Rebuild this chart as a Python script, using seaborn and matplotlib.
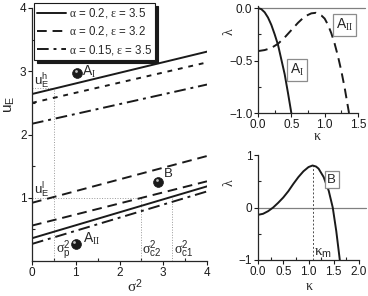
import numpy as np
import pandas as pd
import matplotlib
matplotlib.use('Agg')
import matplotlib.pyplot as plt
from matplotlib.ticker import MultipleLocator
import seaborn as sns

# left panel: u_E vs sigma^2 (straight lines, end points)
sigma2 = [0.0, 4.0]
up_solid = [2.64, 3.31]
up_short = [2.50, 3.14]
up_dashdot = [2.17, 2.79]
lo_dash_hi = [0.92, 1.66]
lo_dash_lo = [0.56, 1.26]
lo_solid = [0.36, 1.18]
lo_dashdot = [0.27, 1.10]

legend_labels = [r'$\mathrm{\alpha}$ = 0.2, $\mathrm{\varepsilon}$ = 3.5',
                 r'$\mathrm{\alpha}$ = 0.2, $\mathrm{\varepsilon}$ = 3.2',
                 r'$\mathrm{\alpha}$ = 0.15, $\mathrm{\varepsilon}$ = 3.5']

# fixed points
pt_names = ['A_I', 'B', 'A_II']
pt_sigma2 = [1.03, 2.88, 1.0]
pt_u = [2.98, 1.25, 0.27]

# reference values
sigma_p = 0.5
sigma_c2 = 2.49
sigma_c1 = 3.21
u_h = 2.73
u_l = 1.0

# top right: lambda(kappa) for A_I and A_II
kap_AI = [0.0, 0.05, 0.1, 0.15, 0.2, 0.25, 0.3, 0.35, 0.4, 0.45, 0.5]
lam_AI = [0.0, -0.01, -0.04, -0.09, -0.16, -0.25, -0.35, -0.49, -0.63, -0.81, -1.0]
kap_AII = [0.0, 0.1, 0.2, 0.3, 0.4, 0.5, 0.6, 0.7, 0.8, 0.87, 0.95, 1.0, 1.05,
           1.1, 1.15, 1.2, 1.25, 1.3, 1.365]
lam_AII = [-0.41, -0.40, -0.38, -0.34, -0.28, -0.21, -0.14, -0.08, -0.05, -0.045,
           -0.07, -0.10, -0.16, -0.24, -0.34, -0.46, -0.60, -0.76, -1.0]

# bottom right: lambda(kappa) for B
kap_B = [0.0, 0.1, 0.2, 0.3, 0.4, 0.5, 0.6, 0.7, 0.8, 0.9, 1.0, 1.08, 1.15,
         1.2, 1.3, 1.4, 1.48, 1.55, 1.62]
lam_B = [-0.14, -0.12, -0.07, 0.0, 0.09, 0.19, 0.31, 0.45, 0.58, 0.69, 0.77, 0.80,
         0.78, 0.74, 0.58, 0.32, 0.0, -0.45, -1.0]
kappa_m = 1.08

sns.set_theme(style='ticks')
plt.rcParams['font.family'] = ['Liberation Sans', 'DejaVu Sans']
plt.rcParams['mathtext.fontset'] = 'custom'
plt.rcParams['mathtext.rm'] = 'Liberation Serif'
plt.rcParams['mathtext.it'] = 'Liberation Serif:italic'
plt.rcParams['mathtext.sf'] = 'Liberation Sans'
plt.rcParams['font.size'] = 8.5
plt.rcParams['axes.linewidth'] = 0.9

fig = plt.figure(figsize=(3.68, 2.96), dpi=100)
ax = fig.add_axes([32 / 368, 1 - 261 / 296, 175 / 368, 253 / 296])
ax_t = fig.add_axes([258 / 368, 1 - 113 / 296, 100 / 368, 107 / 296])
ax_b = fig.add_axes([258 / 368, 1 - 260 / 296, 101 / 368, 105 / 296])

lw = 1.4
dash = (0, (5, 3))
short = (0, (2.5, 3))
dashdot = (0, (6, 2.5, 1.5, 2.5))

# ---- left panel
ref = dict(color='0.6', lw=0.7, ls=':')
ax.plot([sigma_p, sigma_p], [0, u_h], **ref)
ax.plot([0, sigma_p], [u_h, u_h], **ref)
ax.plot([0, sigma_c2], [u_l, u_l], **ref)
ax.plot([sigma_c2, sigma_c2], [0, u_l], **ref)
ax.plot([sigma_c1, sigma_c1], [0, u_l], **ref)

sns.lineplot(x=sigma2, y=up_solid, ax=ax, color='k', lw=lw, label=legend_labels[0])
sns.lineplot(x=sigma2, y=lo_dash_hi, ax=ax, color='k', lw=lw, linestyle=dash,
             label=legend_labels[1])
sns.lineplot(x=sigma2, y=up_dashdot, ax=ax, color='k', lw=lw, linestyle=dashdot,
             label=legend_labels[2])
sns.lineplot(x=sigma2, y=up_short, ax=ax, color='k', lw=lw, linestyle=short)
sns.lineplot(x=sigma2, y=lo_dash_lo, ax=ax, color='k', lw=lw, linestyle=dash)
sns.lineplot(x=sigma2, y=lo_solid, ax=ax, color='k', lw=lw)
sns.lineplot(x=sigma2, y=lo_dashdot, ax=ax, color='k', lw=lw, linestyle=dashdot)

pts = pd.DataFrame({'s': pt_sigma2, 'u': pt_u, 'name': pt_names})
sns.scatterplot(data=pts, x='s', y='u', ax=ax, color='k', s=50, edgecolor='k',
                linewidth=0.5, zorder=5, legend=False)
ax.scatter(np.array(pt_sigma2) - 0.03, np.array(pt_u) + 0.03, s=4, color='0.75',
           zorder=6, linewidths=0)

ax.text(1.14, 2.93, r'$\mathsf{A}_{\mathrm{I}}$', fontsize=10)
ax.text(3.02, 1.33, 'B', fontsize=9.5)
ax.text(1.16, 0.28, r'$\mathsf{A}_{\mathrm{II}}$', fontsize=10)
ax.text(0.04, 2.78, r'$\mathsf{u}_{\mathsf{E}}^{\mathsf{h}}$', fontsize=9.5)
ax.text(0.04, 1.05, r'$\mathsf{u}_{\mathsf{E}}^{\mathsf{l}}$', fontsize=9.5)
ax.text(0.54, 0.12, r'$\mathrm{\sigma}_{\mathsf{p}}^{\mathsf{2}}$', fontsize=10)
ax.text(2.52, 0.12, r'$\mathrm{\sigma}_{\mathsf{c2}}^{\mathsf{2}}$', fontsize=10)
ax.text(3.24, 0.12, r'$\mathrm{\sigma}_{\mathsf{c1}}^{\mathsf{2}}$', fontsize=10)

ax.set_xlim(0, 4)
ax.set_ylim(0, 4)
ax.set_xticks([0, 1, 2, 3, 4])
ax.set_yticks([1, 2, 3, 4])
ax.xaxis.set_minor_locator(MultipleLocator(0.5))
ax.yaxis.set_minor_locator(MultipleLocator(0.5))
ax.set_xlabel(r'$\mathrm{\sigma}^{\mathsf{2}}$', fontsize=11)
ax.set_ylabel(r'$\mathsf{u}_{\mathsf{E}}$', fontsize=11)
ax.xaxis.set_label_coords(0.59, -0.065)
ax.yaxis.set_label_coords(-0.085, 0.62)

leg = ax.legend(loc='upper left', bbox_to_anchor=(34 / 368, 1 - 3 / 296),
                bbox_transform=fig.transFigure, borderaxespad=0, fancybox=False,
                framealpha=1, edgecolor='k', handlelength=2.5, handletextpad=0.2,
                labelspacing=0.35, borderpad=0.3, fontsize=8.3,
                shadow={'facecolor': 'k', 'edgecolor': 'k', 'alpha': 1})
leg.get_frame().set_linewidth(0.8)

# ---- top right panel
ax_t.axhline(0, xmax=1.07, color='0.5', lw=0.9, clip_on=False)
sns.lineplot(x=kap_AI, y=lam_AI, ax=ax_t, color='k', lw=lw)
sns.lineplot(x=kap_AII, y=lam_AII, ax=ax_t, color='k', lw=lw, linestyle=dash)
box = dict(boxstyle='square,pad=0.2', fc='white', ec='0.55', lw=0.9)
ax_t.text(0.48, -0.63, r'$\mathsf{A}_{\mathrm{I}}$', fontsize=10, bbox=box)
ax_t.text(1.17, -0.2, r'$\mathsf{A}_{\mathrm{II}}$', fontsize=10, bbox=box)
ax_t.set_xlim(0, 1.5)
ax_t.set_ylim(-1, 0.02)
ax_t.set_xticks([0, 0.5, 1.0, 1.5])
ax_t.set_yticks([-1.0, -0.5, 0.0])
ax_t.xaxis.set_major_formatter('{x:.1f}')
ax_t.yaxis.set_major_formatter('{x:.1f}')
ax_t.xaxis.set_minor_locator(MultipleLocator(0.25))
ax_t.yaxis.set_minor_locator(MultipleLocator(0.25))
ax_t.set_xlabel(r'$\mathrm{\kappa}$', fontsize=10)
ax_t.set_ylabel(r'$\mathrm{\lambda}$', fontsize=10)
ax_t.xaxis.set_label_coords(0.59, -0.15)
ax_t.yaxis.set_label_coords(-0.22, 0.76)

# ---- bottom right panel
ax_b.axhline(0, xmax=1.07, color='0.5', lw=0.9, clip_on=False)
ax_b.plot([kappa_m, kappa_m], [-1, max(lam_B)], color='0.3', lw=0.7, ls=(0, (2, 2)))
sns.lineplot(x=kap_B, y=lam_B, ax=ax_b, color='k', lw=lw)
ax_b.text(1.37, 0.47, 'B', fontsize=9.5, bbox=box)
ax_b.text(1.1, -0.93, r'$\mathrm{\kappa}_{\mathsf{m}}$', fontsize=11)
ax_b.set_xlim(0, 2.0)
ax_b.set_ylim(-1, 1)
ax_b.set_xticks([0, 0.5, 1.0, 1.5, 2.0])
ax_b.set_yticks([-1, 0, 1])
ax_b.xaxis.set_major_formatter('{x:.1f}')
ax_b.xaxis.set_minor_locator(MultipleLocator(0.25))
ax_b.yaxis.set_minor_locator(MultipleLocator(0.5))
ax_b.set_xlabel(r'$\mathrm{\kappa}$', fontsize=10)
ax_b.set_ylabel(r'$\mathrm{\lambda}$', fontsize=10)
ax_b.xaxis.set_label_coords(0.51, -0.18)
ax_b.yaxis.set_label_coords(-0.22, 0.74)

for a in (ax, ax_t, ax_b):
    sns.despine(ax=a)
    a.tick_params(which='major', direction='out', length=3, width=0.8,
                  labelsize=8.5, pad=1, colors='k')
    a.tick_params(which='minor', direction='in', length=2.5, width=0.8)

fig.savefig('out.png', dpi=100)
